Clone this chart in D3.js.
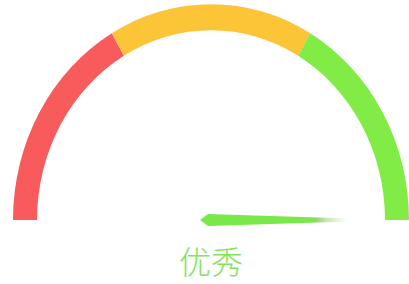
<!DOCTYPE html>
<html>
<head>
<meta charset="utf-8">
<script src="https://cdn.jsdelivr.net/npm/d3@7.9.0/dist/d3.min.js"></script>
<style>
  html, body { margin: 0; padding: 0; background: #fff; }
  svg { display: block; }
</style>
</head>
<body>
<svg id="chart" width="409" height="284"></svg>
<script>
// gauge data
const bandStops = [0, 33.3, 66.7, 100];
const bandColors = ['#f95b5c', '#fcc537', '#80ec45'];
const gaugeValue = [100];
const gaugeLabel = ['优秀'];

const width = 409, height = 284;
const cx = 211, cy = 220;
const outerR = 198, innerR = 174;
const stretchY = 1.09; // the picture is a bit taller than wide

const svg = d3.select('#chart');

const angle = d3.scaleLinear()
    .domain([bandStops[0], bandStops[bandStops.length - 1]])
    .range([-Math.PI / 2, Math.PI / 2]);

const g = svg.append('g')
    .attr('transform', `translate(${cx},${cy}) scale(1,${stretchY})`);

// coloured bands
const arcGen = d3.arc().innerRadius(innerR).outerRadius(outerR);
bandColors.forEach((c, i) => {
    g.append('path')
        .attr('d', arcGen({ startAngle: angle(bandStops[i]), endAngle: angle(bandStops[i + 1]) }))
        .attr('fill', c);
});

// needle gradient, fades out toward the far end
const defs = svg.append('defs');
const grad = defs.append('linearGradient')
    .attr('id', 'needleGrad')
    .attr('gradientUnits', 'userSpaceOnUse')
    .attr('x1', -11).attr('y1', 0).attr('x2', 139).attr('y2', 0);
grad.append('stop').attr('offset', 0).attr('stop-color', '#7be84a');
grad.append('stop').attr('offset', 0.76).attr('stop-color', '#7be84a');
grad.append('stop').attr('offset', 0.78).attr('stop-color', '#8fd070').attr('stop-opacity', 0.9);
grad.append('stop').attr('offset', 1).attr('stop-color', '#c8f0b0').attr('stop-opacity', 0);

const needleDeg = angle(gaugeValue[0]) * 180 / Math.PI - 90;
const needle = d3.line();
g.append('path')
    .attr('d', needle([[-11, 0], [-3, -5.5], [139, -1.4], [139, 1.4], [-3, 5.5]]) + 'Z')
    .attr('fill', 'url(#needleGrad)')
    .attr('transform', `rotate(${needleDeg})`);

// label under the gauge
svg.append('text')
    .attr('x', cx)
    .attr('y', 274)
    .attr('text-anchor', 'middle')
    .attr('font-family', '"Noto Sans CJK SC", sans-serif')
    .attr('font-weight', 300)
    .attr('font-size', 32)
    .attr('fill', '#86e25c')
    .text(gaugeLabel[0]);
</script>
</body>
</html>
